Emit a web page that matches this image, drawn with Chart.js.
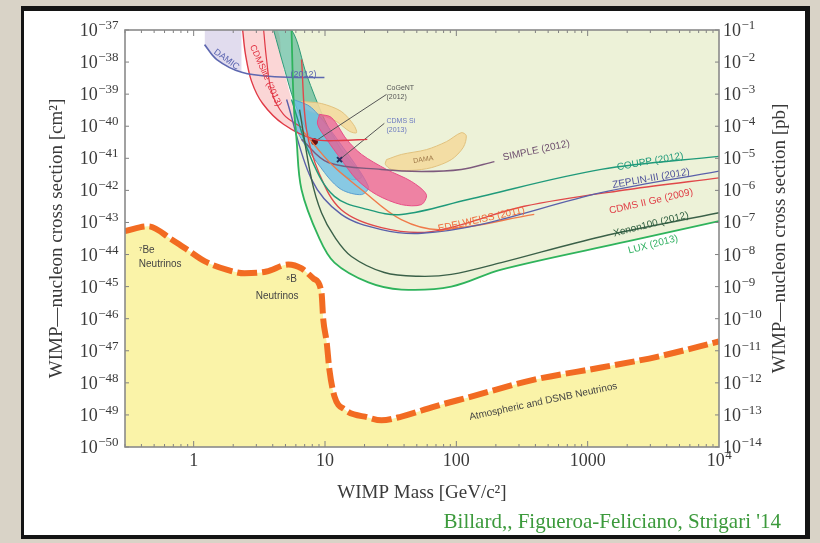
<!DOCTYPE html>
<html>
<head>
<meta charset="utf-8">
<script src="https://cdn.jsdelivr.net/npm/chart.js@4.4.1/dist/chart.umd.min.js"></script>
<style>
  html, body { margin: 0; padding: 0; }
  body { width: 820px; height: 543px; background: #d9d3c7; position: relative; overflow: hidden; }
  #card { position: absolute; left: 21px; top: 6px; width: 789px; height: 533px; box-sizing: border-box;
          background: #fff; border-style: solid; border-color: #141414; border-width: 5px 5px 4px 3px; }
  #wrap { position: absolute; left: 0; top: 0; width: 820px; height: 543px; }
  #credit { position: absolute; right: 39px; top: 509px; font: 21px "Liberation Serif", serif; color: #3c9a3c; }
</style>
</head>
<body>
<div id="card"></div>
<div id="wrap"><canvas id="c" width="820" height="543"></canvas></div>
<div id="credit">Billard,, Figueroa-Feliciano, Strigari '14</div>
<script>
// tick labels
const xTicks = [1, 10, 100, 1000, 10000];
const xTickLabels = ['1', '10', '100', '1000', '10^4'];
const cmTicks = [1e-37, 1e-38, 1e-39, 1e-40, 1e-41, 1e-42, 1e-43, 1e-44, 1e-45, 1e-46, 1e-47, 1e-48, 1e-49, 1e-50];
const pbTicks = [1e-1, 1e-2, 1e-3, 1e-4, 1e-5, 1e-6, 1e-7, 1e-8, 1e-9, 1e-10, 1e-11, 1e-12, 1e-13, 1e-14];

// neutrino floor (GeV, cm^2)
const nuMass  = [0.3, 0.45, 0.68, 0.885, 1.21, 1.78, 2.44, 3.59, 5.25, 6.63, 8.18, 9.4, 9.7, 10.3, 10.8, 11.8, 14.1, 21.4, 26.9, 38.2, 68, 123, 392, 1267, 3436, 10000];
const nuSigma = [5.4e-44, 7.6e-44, 2.95e-44, 1.45e-44, 6.2e-45, 3.4e-45, 2.6e-45, 2.95e-45, 4.9e-45, 3.7e-45, 1.78e-45, 6.6e-46, 9.5e-47, 1.82e-47, 2.6e-48, 3.8e-49, 1.48e-49, 8.3e-50, 6.8e-50, 8.9e-50, 1.82e-49, 3.5e-49, 1.26e-48, 3.0e-48, 6.6e-48, 1.95e-47];

// exclusion limits
const luxMass  = [5.56, 5.76, 6.07, 6.62, 8.93, 11.8, 21.4, 38.2, 91.6, 220, 2050, 10000];
const luxSigma = [1e-37, 6.8e-40, 3.9e-41, 1.07e-42, 3.6e-44, 5.6e-45, 1.35e-45, 8.1e-46, 1.0e-45, 3.4e-45, 2.6e-44, 1.1e-43];
const xe100Mass  = [6.4, 7.9, 9.4, 11.8, 15.9, 28.3, 51.4, 91.6, 220, 1260, 10000];
const xe100Sigma = [3.3e-40, 2.2e-42, 2.0e-43, 3.6e-44, 8.7e-45, 2.75e-45, 2.1e-45, 2.4e-45, 5.6e-45, 3.6e-44, 2.0e-43];
const couppMass  = [5.56, 7.9, 11.8, 21.4, 38.2, 123, 1267, 10000];
const couppSigma = [6.8e-40, 9.1e-42, 6.5e-43, 2.5e-43, 1.78e-43, 5.2e-43, 4.5e-42, 1.15e-41];
const zeplinMass  = [5.1, 7.9, 13.3, 26.9, 54.2, 155, 1267, 10000];
const zeplinSigma = [6.8e-40, 2.2e-42, 1.78e-43, 6.0e-44, 4.6e-44, 8.7e-44, 8.5e-43, 4.0e-42];
const cdmsGeMass  = [6.63, 7.23, 9.08, 13.3, 26.9, 64.5, 329, 2050, 10000];
const cdmsGeSigma = [1.2e-38, 7.9e-41, 3.2e-42, 2.5e-43, 6.9e-44, 5.2e-44, 3.2e-43, 1.07e-42, 2.45e-42];
const edelMass  = [6.63, 11.2, 18.9, 38.1, 76.6, 392];
const edelSigma = [7.9e-41, 6.5e-42, 1.07e-42, 1.23e-43, 6.0e-44, 1.78e-43];
const simpleMass  = [6.63, 10.6, 26.9, 54.2, 109, 195];
const simpleSigma = [3.9e-41, 7.4e-42, 4.5e-42, 3.9e-42, 4.5e-42, 7.9e-42];
const damicMass  = [1.21, 1.5, 2.32, 4.13, 9.9];
const damicSigma = [3.5e-38, 1.2e-38, 4.8e-39, 3.5e-39, 3.3e-39];
const cdmsliteMass  = [2.36, 2.48, 2.76, 3.35, 4.83, 8.32, 13.3, 21];
const cdmsliteSigma = [1e-37, 1.74e-38, 2.5e-39, 5.1e-40, 1.15e-40, 3.9e-41, 3.6e-41, 3.9e-41];
const cdmsliteInMass  = [3.41, 3.59, 3.92, 4.83, 6.63];
const cdmsliteInSigma = [1e-37, 1.2e-38, 1.2e-39, 2.35e-40, 9.1e-41];

// closed signal / allowed regions
const liteBandMass  = [2.36, 2.48, 2.76, 3.35, 4.83, 6.63, 5.56, 4.67, 4.28, 2.36];
const liteBandSigma = [1e-37, 1.74e-38, 2.5e-39, 5.1e-40, 1.15e-40, 5.5e-41, 6.8e-40, 1.2e-38, 1e-37, 1e-37];
const tealMass  = [4.06, 4.92, 5.86, 7.89, 11.2, 15.9, 19.0, 13.3, 9.91, 7.23, 5.56, 4.06];
const tealSigma = [1e-37, 5.9e-39, 5.5e-40, 3.9e-41, 6.5e-42, 2.2e-42, 2.7e-42, 1.86e-41, 1.62e-40, 4.1e-39, 1e-37, 1e-37];
const blueMass  = [5.76, 7.89, 12.9, 21.4, 19.0, 13.3, 9.91, 6.07, 5.76];
const blueSigma = [6.8e-40, 3.8e-40, 3.1e-41, 1.32e-42, 7.4e-43, 1.07e-42, 3.6e-42, 7.9e-41, 6.8e-40];
const pinkMass  = [9.08, 11.2, 14.6, 19.0, 29.4, 45.5, 59.1, 54.2, 38.2, 24.6, 17.4, 13.3, 10.3, 8.77, 9.08];
const pinkSigma = [2.35e-40, 1.87e-40, 3.9e-41, 1.32e-41, 4.5e-42, 1.9e-42, 7.4e-43, 3.6e-43, 3.6e-43, 7.4e-43, 2.2e-42, 9.1e-42, 3.9e-41, 1.15e-40, 2.35e-40];
const cogentMass  = [6.63, 9.4, 13.3, 16.5, 17.4, 15.4, 12.2, 9.08, 7.23, 6.63];
const cogentSigma = [5.9e-40, 5.1e-40, 2.9e-40, 1.12e-40, 6.3e-41, 6.9e-41, 1.41e-40, 2.35e-40, 3.3e-40, 5.9e-40];
const damaMass  = [29.4, 38.2, 59.1, 84, 109, 119, 113, 91.6, 64.5, 45.5, 32.1, 28.8, 29.4];
const damaSigma = [9.1e-42, 1.32e-41, 1.86e-41, 3.3e-41, 6.3e-41, 5.1e-41, 2.2e-41, 9.1e-42, 5.1e-42, 4.2e-42, 4.5e-42, 6.5e-42, 9.1e-42];

// best-fit points and label leaders
const cogentFitMass = [8.32, 29.4];
const cogentFitSigma = [3.3e-41, 9.8e-40];
const cdmsSiFitMass = [12.9, 28.3];
const cdmsSiFitSigma = [9.1e-42, 1.23e-40];

// in-plot labels: [mass, sigma, text, colour, angle, size, align]
const notes = [
  [406, 1.74e-41, 'SIMPLE (2012)', '#6e4f6e', -12, 10, 'center'],
  [2990, 7.9e-42, 'COUPP (2012)', '#1f9a7a', -10, 10, 'center'],
  [3040, 2.35e-42, 'ZEPLIN-III (2012)', '#4c4f9a', -10, 10, 'center'],
  [3040, 4.5e-43, 'CDMS II Ge (2009)', '#e04048', -13, 10, 'center'],
  [155, 1.23e-43, 'EDELWEISS (2011)', '#f06a3a', -12.5, 10, 'center'],
  [3040, 8.7e-44, 'Xenon100 (2012)', '#2f5f40', -14, 10, 'center'],
  [3150, 2.05e-44, 'LUX (2013)', '#2fb060', -14.5, 10, 'center'],
  [56, 9.1e-42, 'DAMA', '#a07a4a', -8, 7, 'center'],
  [29.4, 1.5e-39, 'CoGeNT', '#555', 0, 7, 'left'],
  [29.4, 7.9e-40, '(2012)', '#555', 0, 7, 'left'],
  [29.4, 1.5e-40, 'CDMS Si', '#6a78c0', 0, 7, 'left'],
  [29.4, 7.4e-41, '(2013)', '#6a78c0', 0, 7, 'left'],
  [1.78, 1.2e-38, 'DAMIC', '#5a64b0', 36, 9, 'center'],
  [6.87, 4.1e-39, '(2012)', '#5a64b0', 0, 9, 'center'],
  [3.53, 3.8e-39, 'CDMSlite (2013)', '#e03040', 66, 9, 'center'],
  [0.382, 1.35e-44, '⁷Be', '#444', 0, 10, 'left'],
  [0.382, 4.9e-45, 'Neutrinos', '#444', 0, 10, 'left'],
  [6.1, 1.66e-45, '⁸B', '#444', 0, 10, 'right'],
  [6.29, 4.9e-46, 'Neutrinos', '#444', 0, 10, 'right'],
  [459, 2.6e-49, 'Atmospheric and DSNB Neutrinos', '#444', -12, 10, 'center']
];

const pts = (ms, ss) => ms.map((m, i) => ({ x: m, y: ss[i] }));

function curve(ms, ss, color, width, order) {
  return { data: pts(ms, ss), showLine: true, pointRadius: 0, borderColor: color, borderWidth: width,
           fill: false, tension: 0.35, order: order };
}
function region(ms, ss, fillColor, edge, order) {
  return { data: pts(ms, ss), showLine: true, pointRadius: 0, borderColor: edge, borderWidth: 1,
           backgroundColor: fillColor, fill: 'shape', tension: 0.3, order: order };
}

const serifName = '"Liberation Serif", serif';
const titleFont = { family: serifName, size: 19 };
const tickColor = '#3a3a3a';

// "10" with a raised exponent
function drawPow(ctx, exp, x, y, align) {
  const e = String(exp).replace('-', '−');
  ctx.font = '18px ' + serifName;
  const wb = ctx.measureText('10').width;
  ctx.font = '13px ' + serifName;
  const we = ctx.measureText(e).width;
  const x0 = align === 'right' ? x - wb - we : align === 'center' ? x - (wb + we) / 2 : x;
  ctx.textAlign = 'left';
  ctx.textBaseline = 'alphabetic';
  ctx.font = '18px ' + serifName;
  ctx.fillText('10', x0, y + 6);
  ctx.font = '13px ' + serifName;
  ctx.fillText(e, x0 + wb + 0.5, y - 1);
}

const frame = {
  id: 'frame',
  afterDatasetsDraw(chart) {
    const { ctx, chartArea: a, scales: { x, y, y2 } } = chart;
    ctx.save();
    ctx.strokeStyle = '#808080';
    ctx.lineWidth = 1;
    ctx.beginPath();
    for (let e = -1; e < 4; e++) {
      for (let k = 1; k < 10; k++) {
        const v = k * Math.pow(10, e);
        if (v < 0.3 || v > 1e4) continue;
        const px = x.getPixelForValue(v);
        const len = k === 1 ? 6 : 3;
        ctx.moveTo(px, a.bottom); ctx.lineTo(px, a.bottom - len);
        ctx.moveTo(px, a.top); ctx.lineTo(px, a.top + len);
      }
    }
    cmTicks.forEach(v => {
      const py = y.getPixelForValue(v);
      ctx.moveTo(a.left, py); ctx.lineTo(a.left + 4, py);
      ctx.moveTo(a.right, py); ctx.lineTo(a.right - 4, py);
    });
    ctx.stroke();
    ctx.lineWidth = 1.6;
    ctx.strokeStyle = '#8a8a8a';
    ctx.strokeRect(a.left, a.top, a.width, a.height);

    // tick labels
    ctx.fillStyle = tickColor;
    cmTicks.forEach(v => drawPow(ctx, Math.round(Math.log10(v)), a.left - 7, y.getPixelForValue(v), 'right'));
    pbTicks.forEach(v => drawPow(ctx, Math.round(Math.log10(v)), a.right + 4, y2.getPixelForValue(v), 'left'));
    xTicks.forEach((v, i) => {
      const px = x.getPixelForValue(v);
      const lab = xTickLabels[i];
      if (lab.indexOf('^') > 0) {
        drawPow(ctx, lab.split('^')[1], px, a.bottom + 13, 'center');
      } else {
        ctx.font = '18px ' + serifName;
        ctx.textAlign = 'center';
        ctx.textBaseline = 'alphabetic';
        ctx.fillText(lab, px, a.bottom + 19);
      }
    });

    // in-plot annotations
    notes.forEach(([m, s, text, color, ang, size, align]) => {
      ctx.save();
      ctx.translate(x.getPixelForValue(m), y.getPixelForValue(s));
      ctx.rotate(ang * Math.PI / 180);
      ctx.font = size + 'px "Liberation Sans", sans-serif';
      ctx.fillStyle = color;
      ctx.textAlign = align;
      ctx.textBaseline = 'middle';
      ctx.fillText(text, 0, 0);
      ctx.restore();
    });

    // right axis title, read bottom-to-top like the left one
    ctx.save();
    ctx.translate(780, (a.top + a.bottom) / 2);
    ctx.rotate(-Math.PI / 2);
    ctx.font = '19px ' + serifName;
    ctx.fillStyle = tickColor;
    ctx.textAlign = 'center';
    ctx.textBaseline = 'middle';
    ctx.fillText('WIMP—nucleon cross section [pb]', 0, 0);
    ctx.restore();
    ctx.restore();
  }
};

const datasets = [
  // limit curves (on top)
  curve(luxMass, luxSigma, '#2fb35c', 1.8, 1),
  curve(xe100Mass, xe100Sigma, '#3a6048', 1.4, 2),
  curve(couppMass, couppSigma, '#1f9a7a', 1.4, 3),
  curve(zeplinMass, zeplinSigma, '#5a60aa', 1.4, 4),
  curve(cdmsGeMass, cdmsGeSigma, '#e0484a', 1.4, 5),
  curve(edelMass, edelSigma, '#f07a4a', 1.4, 6),
  curve(simpleMass, simpleSigma, '#7d5a7d', 1.4, 7),
  curve(damicMass, damicSigma, '#5e68b0', 1.6, 8),
  curve(cdmsliteMass, cdmsliteSigma, '#e03a46', 1.4, 9),
  curve(cdmsliteInMass, cdmsliteInSigma, '#e03a46', 1.2, 10),
  { data: pts(cogentFitMass, cogentFitSigma), showLine: true, borderColor: '#555', borderWidth: 1,
    pointRadius: [3, 0], pointBackgroundColor: '#6a1010', pointBorderColor: '#6a1010', order: 11 },
  { data: pts(cdmsSiFitMass, cdmsSiFitSigma), showLine: true, borderColor: '#555', borderWidth: 1,
    pointRadius: [3.5, 0], pointStyle: 'crossRot', pointBorderColor: '#2a2f60', pointBorderWidth: 2, order: 12 },
  // regions
  region(damaMass, damaSigma, 'rgba(243,218,158,0.9)', '#e2c27e', 20),
  region(pinkMass, pinkSigma, 'rgba(238,92,146,0.75)', '#e84d86', 21),
  region(blueMass, blueSigma, 'rgba(110,190,230,0.8)', '#5a9fd0', 22),
  region(cogentMass, cogentSigma, 'rgba(243,218,158,0.9)', '#e2c27e', 23),
  region(tealMass, tealSigma, 'rgba(70,175,140,0.6)', '#2f9a78', 24),
  region(liteBandMass, liteBandSigma, 'rgba(250,200,200,0.75)', 'rgba(0,0,0,0)', 25),
  { data: pts(damicMass.slice(0, 3), damicSigma.slice(0, 3)), showLine: true, pointRadius: 0, borderWidth: 0,
    backgroundColor: 'rgba(222,216,236,0.9)', fill: 'end', tension: 0.35, order: 26 },
  // neutrino floor
  { data: pts(nuMass, nuSigma), showLine: true, pointRadius: 0, borderColor: '#f26b22', borderWidth: 6,
    borderDash: [20, 5], backgroundColor: '#faf3a8', fill: 'start', cubicInterpolationMode: 'monotone', order: 40 },
  // excluded area above the strongest limit
  { data: pts(luxMass, luxSigma), showLine: true, pointRadius: 0, borderWidth: 0,
    backgroundColor: '#edf2d8', fill: 'end', tension: 0.35, order: 50 }
];

new Chart(document.getElementById('c'), {
  type: 'scatter',
  data: { datasets: datasets },
  options: {
    responsive: false,
    animation: false,
    layout: { padding: { left: 38, right: 20, top: 30, bottom: 36 } },
    plugins: { legend: { display: false }, tooltip: { enabled: false } },
    scales: {
      x: {
        type: 'logarithmic', position: 'bottom', min: 0.3, max: 1e4,
        afterBuildTicks: s => { s.ticks = xTicks.map(v => ({ value: v })); },
        afterFit: s => { s.height = 60; },
        grid: { display: false, drawTicks: false }, border: { display: false },
        ticks: { display: false },
        title: { display: true, text: 'WIMP Mass [GeV/c²]', font: titleFont, color: tickColor, padding: { top: 0, bottom: 3 } }
      },
      y: {
        type: 'logarithmic', position: 'left', min: 1e-50, max: 1e-37,
        afterBuildTicks: s => { s.ticks = cmTicks.map(v => ({ value: v })); },
        afterFit: s => { s.width = 125 - 38; },
        grid: { display: false, drawTicks: false }, border: { display: false },
        ticks: { display: false },
        title: { display: true, text: 'WIMP—nucleon cross section [cm²]', font: titleFont, color: tickColor, padding: { top: 8, bottom: 0 } }
      },
      y2: {
        type: 'logarithmic', position: 'right', min: 1e-14, max: 1e-1,
        afterBuildTicks: s => { s.ticks = pbTicks.map(v => ({ value: v })); },
        afterFit: s => { s.width = 820 - 20 - 719; },
        grid: { display: false, drawTicks: false }, border: { display: false },
        ticks: { display: false }
      }
    }
  },
  plugins: [frame]
});
</script>
</body>
</html>
